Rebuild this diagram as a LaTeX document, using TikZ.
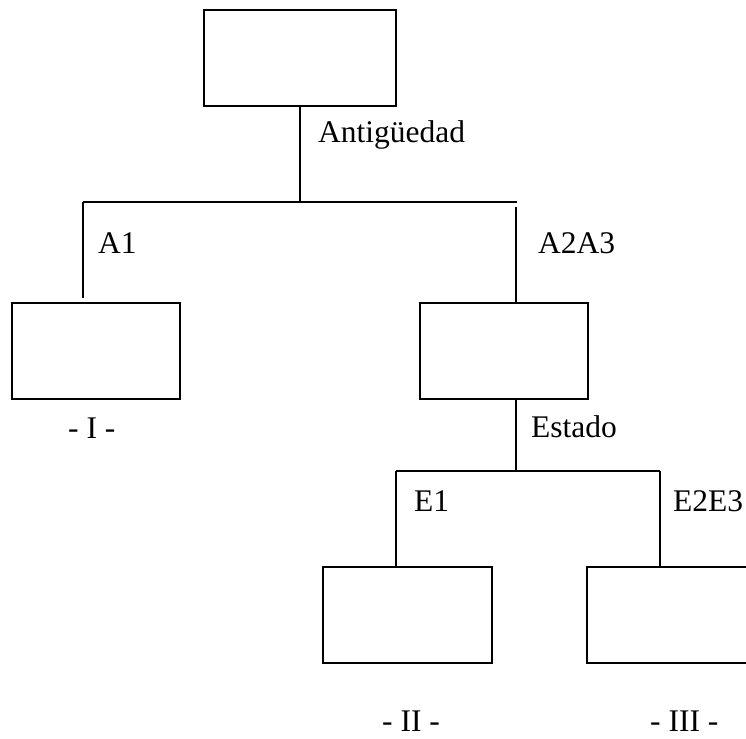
\documentclass[tikz,border=0pt]{standalone}
\usepackage{fontspec}
\setmainfont{Liberation Serif}
\begin{document}
\begin{tikzpicture}[x=1pt,y=-1pt,
  box/.style={draw,line width=2pt,rectangle,inner sep=0pt,minimum height=96pt},
  lbl/.style={anchor=base west,inner sep=0pt,font=\fontsize{31.5}{36}\selectfont},
  link/.style={line width=2pt}]
\useasboundingbox (0,0) rectangle (746,738);
\clip (0,0) rectangle (746,738);
% boxes of the tree
\node[box,minimum width=192pt] (root) at (300,58) {};
\node[box,minimum width=168pt] (g1) at (96,351) {};
\node[box,minimum width=168pt] (g23) at (504,351) {};
\node[box,minimum width=169pt] (g2) at (407.5,615) {};
\node[box,minimum width=169pt] (g3) at (671.5,615) {};
% branching points
\coordinate (rootj) at (300,202);
\coordinate (aL) at (83,202);
\coordinate (aR) at (517,202);
\coordinate (aLend) at (83,298);
\coordinate (aRtop) at (516,207);
\coordinate (aRend) at (516,303);
\coordinate (g23out) at (516,399);
\coordinate (ej) at (516,471);
\coordinate (eL) at (396,471);
\coordinate (eR) at (660,471);
% connectors
\draw[link] (root.south) -- (rootj);
\draw[link] (aL) -- (aR);
\draw[link] (aL) -- (aLend);
\draw[link] (aRtop) -- (aRend);
\draw[link] (g23out) -- (ej);
\draw[link] (eL) -- (eR);
\draw[link] (eL) -- (eL |- g2.north);
\draw[link] (eR) -- (eR |- g3.north);
% labels
\node[lbl] (t0) at (318,143) {Antigüedad};
\node[lbl] (t1) at (98,253) {A1};
\node[lbl] (t2) at (538,253) {A2A3};
\node[lbl] (t3) at (531,437) {Estado};
\node[lbl] (t4) at (414,511) {E1};
\node[lbl] (t5) at (673,511) {E2E3};
\node[lbl] (c1) at (68,438) {- I -};
\node[lbl] (c2) at (382,731) {- II -};
\node[lbl] (c3) at (650,731) {- III -};
\end{tikzpicture}
\end{document}
